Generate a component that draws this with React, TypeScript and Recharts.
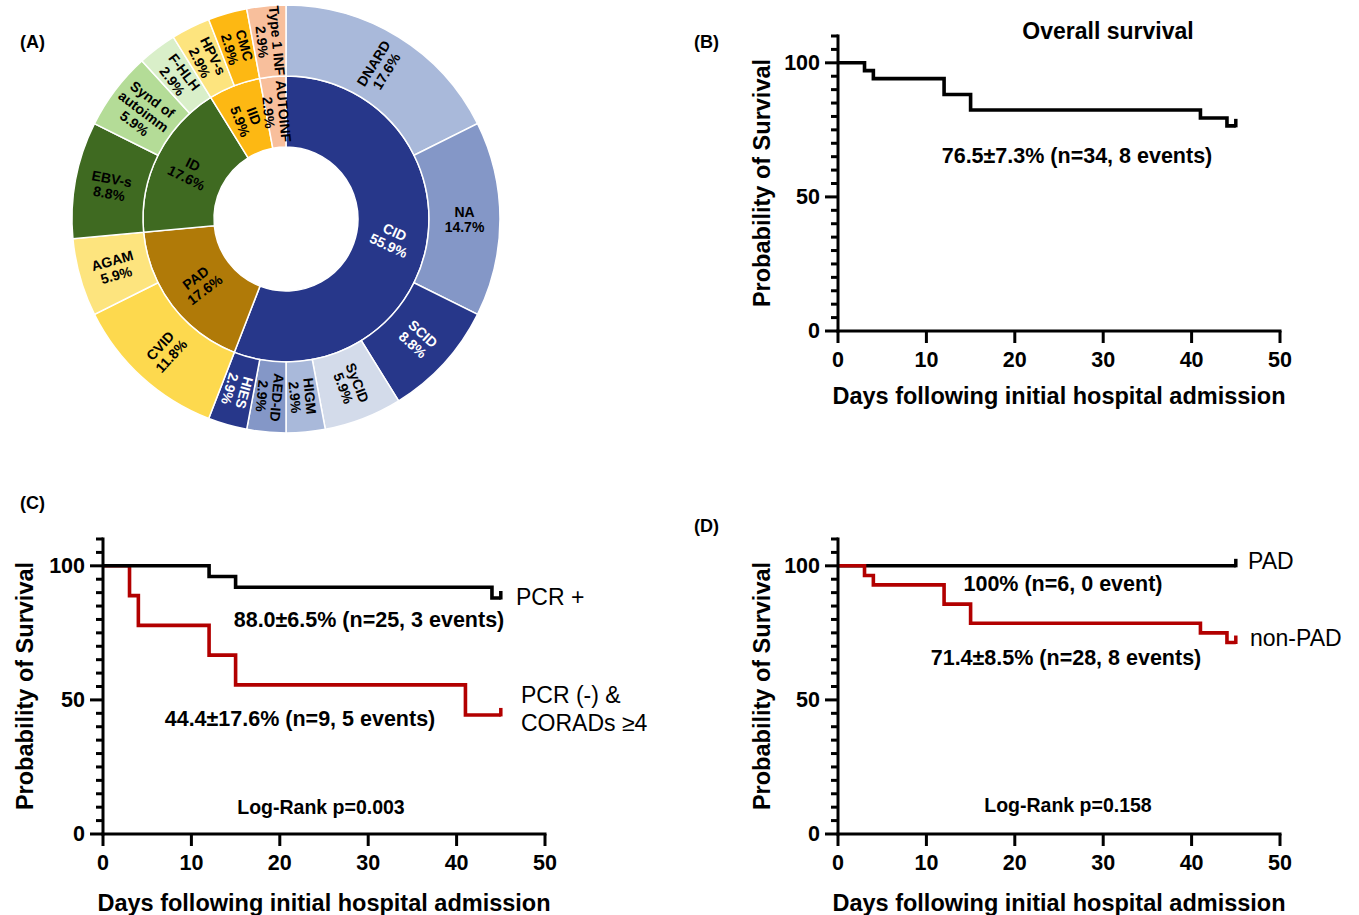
import React from 'react';
import { PieChart, Pie, Cell, LineChart, Line, XAxis, YAxis } from 'recharts';

const FONT = '"Liberation Sans", Arial, Helvetica, sans-serif';
const RED = '#B20000';
const NAVY = '#27378A';

// (A) inner ring: disease groups (n = 34)
const groupNames = ['CID', 'PAD', 'ID', 'IID', 'AUTOINF'];
const groupCounts = [19, 6, 6, 2, 1];
const groupColors = [NAVY, '#B07A08', '#3F6A21', '#FDB813', '#F8BF9C'];

// (A) outer ring: diagnoses, same order round the circle
const subNames = [
  'DNARD', 'NA', 'SCID', 'SyCID', 'HIGM', 'AED-ID', 'HIES',
  'CVID', 'AGAM',
  'EBV-s', 'Synd of\nautoimm', 'F-HLH',
  'HPV-s', 'CMC',
  'Type 1 INF'
];
const subCounts = [6, 5, 3, 2, 1, 1, 1, 4, 2, 3, 2, 1, 1, 1, 1];
const subColors = [
  '#A9B9DA', '#8497C7', NAVY, '#D3DBEA', '#A9B9DA', '#8497C7', NAVY,
  '#FDD94E', '#FDE47E',
  '#3F6A21', '#B4DC97', '#D9EFC9',
  '#FDE47E', '#FDB813',
  '#F8BF9C'
];

// Kaplan-Meier axes
const X_TICKS = [0, 10, 20, 30, 40, 50];
const Y_TICKS = [0, 5, 10, 15, 20, 25, 30, 35, 40, 45, 50, 55, 60, 65, 70, 75, 80, 85, 90, 95, 100, 105, 110];

// (B) overall survival
const overallDays = [0, 3, 4, 12, 15, 41, 44, 45];
const overallSurv = [100, 97.1, 94.1, 88.2, 82.4, 79.4, 76.5, 76.5];

// (C) PCR + vs PCR (-) & CORADs >= 4
const pcrPosDays = [0, 12, 15, 44, 45];
const pcrPosSurv = [100, 96, 92, 88, 88];
const pcrNegDays = [0, 3, 4, 12, 15, 41, 45];
const pcrNegSurv = [100, 88.9, 77.8, 66.7, 55.6, 44.4, 44.4];

// (D) PAD vs non-PAD
const padDays = [0, 45];
const padSurv = [100, 100];
const nonPadDays = [0, 3, 4, 12, 15, 41, 44, 45];
const nonPadSurv = [100, 96.4, 92.9, 85.7, 78.6, 75.0, 71.4, 71.4];

const toRows = (days: number[], surv: number[]) =>
  days.map((d, i) => ({ day: d, s: surv[i] }));

const RAD = Math.PI / 180;

// rotated label inside each slice, reading outward, flipped when it would be upside down
const renderSliceLabel = (props: any) => {
  const { cx, cy, midAngle, innerRadius, outerRadius, percent, index } = props;
  const name: string = props.payload?.name ?? props.name;
  const fill: string = props.payload?.fill ?? props.fill;
  const r = (innerRadius + outerRadius) / 2;
  const x = cx + r * Math.cos(-midAngle * RAD);
  const y = cy + r * Math.sin(-midAngle * RAD);
  let rot = -midAngle;
  while (rot > 180) rot -= 360;
  while (rot <= -180) rot += 360;
  if (rot < -90) rot += 180;
  if (rot > 130) rot -= 180;
  if (name === 'CID') rot += 14;
  const lines = [...name.split('\n'), `${(percent * 100).toFixed(1)}%`];
  const lh = 15;
  const ink = fill === NAVY ? '#fff' : '#000';
  return (
    <text
      key={`lbl-${name}-${index}`}
      x={x}
      y={y}
      transform={`rotate(${rot}, ${x}, ${y})`}
      textAnchor="middle"
      dominantBaseline="central"
      fontFamily={FONT}
      fontSize={14}
      fontWeight="bold"
      fill={ink}
    >
      {lines.map((l, i) => (
        <tspan key={i} x={x} y={y + (i - (lines.length - 1) / 2) * lh}>
          {l}
        </tspan>
      ))}
    </text>
  );
};

const XTick = (props: any) => {
  const { x, y, payload } = props;
  return (
    <g>
      <line x1={x} y1={y} x2={x} y2={y + 12} stroke="#000" strokeWidth={3} />
      <text
        x={x}
        y={y + 29}
        textAnchor="middle"
        dominantBaseline="central"
        fontFamily={FONT}
        fontSize={21.5}
        fontWeight="bold"
        fill="#000"
      >
        {payload.value}
      </text>
    </g>
  );
};

const YTick = (props: any) => {
  const { x, y, payload } = props;
  const major = payload.value % 50 === 0;
  return (
    <g>
      <line x1={x - (major ? 13 : 7)} y1={y} x2={x} y2={y} stroke="#000" strokeWidth={3} />
      {major && (
        <text
          x={x - 18}
          y={y}
          textAnchor="end"
          dominantBaseline="central"
          fontFamily={FONT}
          fontSize={21.5}
          fontWeight="bold"
          fill="#000"
        >
          {payload.value}
        </text>
      )}
    </g>
  );
};

// censor tick at the last point of a curve
const censorDot = (len: number, color: string) => (p: any) =>
  p.index === len - 1 ? (
    <line
      key={`c-${p.index}`}
      x1={p.cx}
      y1={p.cy + 1.5}
      x2={p.cx}
      y2={p.cy - 7}
      stroke={color}
      strokeWidth={3.5}
    />
  ) : (
    <g key={`c-${p.index}`} />
  );

interface Curve {
  id: string;
  rows: { day: number; s: number }[];
  color: string;
}

const axisStyle = { stroke: '#000', strokeWidth: 3, strokeLinecap: 'square' as const };

// plot area is 442 x 295 with its top-left corner at (left, top)
function KMPanel({ left, top, curves }: { left: number; top: number; curves: Curve[] }) {
  return (
    <div style={{ position: 'absolute', left: left - 100, top: top - 20 }}>
      <LineChart width={582} height={365} margin={{ top: 20, right: 40, bottom: 0, left: 0 }}>
        <XAxis
          type="number"
          dataKey="day"
          domain={[0, 50]}
          ticks={X_TICKS}
          interval={0}
          tickSize={0}
          tickMargin={0}
          tickLine={false}
          tick={<XTick />}
          axisLine={axisStyle}
          height={50}
        />
        <YAxis
          type="number"
          domain={[0, 110]}
          ticks={Y_TICKS}
          interval={0}
          tickSize={0}
          tickMargin={0}
          tickLine={false}
          tick={<YTick />}
          axisLine={axisStyle}
          width={100}
        />
        {curves.map((c) => (
          <Line
            key={c.id}
            data={c.rows}
            dataKey="s"
            type="stepAfter"
            stroke={c.color}
            strokeWidth={3.6}
            dot={censorDot(c.rows.length, c.color)}
            activeDot={false}
            isAnimationActive={false}
          />
        ))}
      </LineChart>
    </div>
  );
}

const T = ({ x, y, children, size = 21.5, weight = 'bold', anchor = 'middle', rotate = 0 }: any) => (
  <text
    x={x}
    y={y}
    textAnchor={anchor}
    dominantBaseline="central"
    fontFamily={FONT}
    fontSize={size}
    fontWeight={weight}
    fill="#000"
    transform={rotate ? `rotate(${rotate}, ${x}, ${y})` : undefined}
  >
    {children}
  </text>
);

export default function App() {
  const groupData = groupNames.map((n, i) => ({ name: n, value: groupCounts[i], fill: groupColors[i] }));
  const subData = subNames.map((n, i) => ({ name: n, value: subCounts[i], fill: subColors[i] }));

  return (
    <div
      style={{
        position: 'absolute',
        left: 0,
        top: 0,
        width: 1359,
        height: 915,
        background: '#fff',
        overflow: 'hidden'
      }}
    >
      <div style={{ position: 'absolute', left: 0, top: 0 }}>
        <PieChart width={600} height={445} margin={{ top: 0, right: 0, bottom: 0, left: 0 }}>
          <Pie
            data={groupData}
            dataKey="value"
            nameKey="name"
            cx={286}
            cy={219}
            innerRadius={72}
            outerRadius={143}
            startAngle={90}
            endAngle={-270}
            stroke="#fff"
            strokeWidth={1.5}
            label={renderSliceLabel}
            labelLine={false}
            isAnimationActive={false}
          >
            {groupData.map((d, i) => (
              <Cell key={`g-${i}`} fill={d.fill} />
            ))}
          </Pie>
          <Pie
            data={subData}
            dataKey="value"
            nameKey="name"
            cx={286}
            cy={219}
            innerRadius={143}
            outerRadius={214}
            startAngle={90}
            endAngle={-270}
            stroke="#fff"
            strokeWidth={1.5}
            label={renderSliceLabel}
            labelLine={false}
            isAnimationActive={false}
          >
            {subData.map((d, i) => (
              <Cell key={`s-${i}`} fill={d.fill} />
            ))}
          </Pie>
        </PieChart>
      </div>

      <KMPanel
        left={838}
        top={36}
        curves={[{ id: 'all', rows: toRows(overallDays, overallSurv), color: '#000' }]}
      />
      <KMPanel
        left={103}
        top={539}
        curves={[
          { id: 'neg', rows: toRows(pcrNegDays, pcrNegSurv), color: RED },
          { id: 'pos', rows: toRows(pcrPosDays, pcrPosSurv), color: '#000' }
        ]}
      />
      <KMPanel
        left={838}
        top={539}
        curves={[
          { id: 'pad', rows: toRows(padDays, padSurv), color: '#000' },
          { id: 'nonpad', rows: toRows(nonPadDays, nonPadSurv), color: RED }
        ]}
      />

      <svg
        width={1359}
        height={915}
        style={{ position: 'absolute', left: 0, top: 0, pointerEvents: 'none' }}
      >
        <T x={20} y={42} size={18} anchor="start">(A)</T>
        <T x={694} y={42} size={18} anchor="start">(B)</T>
        <T x={20} y={503} size={18} anchor="start">(C)</T>
        <T x={694} y={526} size={18} anchor="start">(D)</T>

        {/* (B) */}
        <T x={1108} y={31} size={23}>Overall survival</T>
        <T x={1077} y={156}>76.5±7.3% (n=34, 8 events)</T>
        <T x={762} y={183} size={23.5} rotate={-90}>Probability of Survival</T>
        <T x={1059} y={396} size={23.5}>Days following initial hospital admission</T>

        {/* (C) */}
        <T x={369} y={620}>88.0±6.5% (n=25, 3 events)</T>
        <T x={300} y={719}>44.4±17.6% (n=9, 5 events)</T>
        <T x={321} y={807} size={19.5}>Log-Rank p=0.003</T>
        <T x={516} y={597} size={23} weight="normal" anchor="start">PCR +</T>
        <T x={521} y={695} size={23} weight="normal" anchor="start">PCR (-) &amp;</T>
        <T x={521} y={723} size={23} weight="normal" anchor="start">CORADs ≥4</T>
        <T x={25} y={686} size={23.5} rotate={-90}>Probability of Survival</T>
        <T x={324} y={903} size={23.5}>Days following initial hospital admission</T>

        {/* (D) */}
        <T x={1063} y={584}>100% (n=6, 0 event)</T>
        <T x={1066} y={658}>71.4±8.5% (n=28, 8 events)</T>
        <T x={1068} y={805} size={19.5}>Log-Rank p=0.158</T>
        <T x={1248} y={561} size={23} weight="normal" anchor="start">PAD</T>
        <T x={1250} y={638} size={23} weight="normal" anchor="start">non-PAD</T>
        <T x={762} y={686} size={23.5} rotate={-90}>Probability of Survival</T>
        <T x={1059} y={903} size={23.5}>Days following initial hospital admission</T>
      </svg>
    </div>
  );
}
